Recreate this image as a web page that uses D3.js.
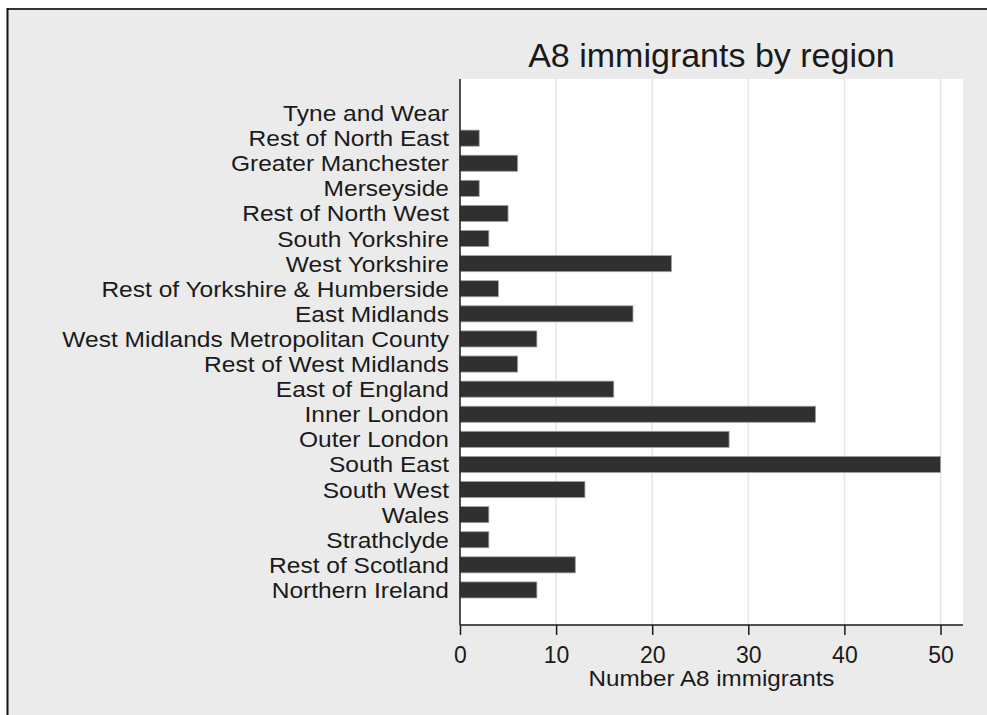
<!DOCTYPE html>
<html>
<head>
<meta charset="utf-8">
<script src="https://cdn.jsdelivr.net/npm/d3@7"></script>
<style>
  html, body { margin: 0; padding: 0; background: #ffffff; }
  svg { display: block; }
  text { font-family: "Liberation Sans", Arial, sans-serif; fill: #1a1a1a; }
</style>
</head>
<body>
<script>
const categories = [
  "Tyne and Wear", "Rest of North East", "Greater Manchester", "Merseyside",
  "Rest of North West", "South Yorkshire", "West Yorkshire",
  "Rest of Yorkshire & Humberside", "East Midlands",
  "West Midlands Metropolitan County", "Rest of West Midlands",
  "East of England", "Inner London", "Outer London", "South East",
  "South West", "Wales", "Strathclyde", "Rest of Scotland", "Northern Ireland"
];
const values = [0, 2, 6, 2, 5, 3, 22, 4, 18, 8, 6, 16, 37, 28, 50, 13, 3, 3, 12, 8];
const xTicks = [0, 10, 20, 30, 40, 50];
const titleText = "A8 immigrants by region";
const xAxisTitle = "Number A8 immigrants";

const W = 987, H = 715;
const plot = { left: 460, right: 963, top: 79, bottom: 625 };

const svg = d3.select("body").append("svg").attr("width", W).attr("height", H);

// outer background + frame
svg.append("rect").attr("x", 0).attr("y", 0).attr("width", W).attr("height", H).attr("fill", "#ffffff");
svg.append("rect").attr("x", 7).attr("y", 8).attr("width", W - 7).attr("height", H - 8).attr("fill", "#ebebeb");
svg.append("line").attr("x1", 7).attr("x2", W).attr("y1", 9).attr("y2", 9).attr("stroke", "#333").attr("stroke-width", 2);
svg.append("line").attr("x1", 7.5).attr("x2", 7.5).attr("y1", 8).attr("y2", H).attr("stroke", "#111").attr("stroke-width", 2);

// plot region
svg.append("rect").attr("x", plot.left).attr("y", plot.top)
  .attr("width", plot.right - plot.left).attr("height", plot.bottom - plot.top).attr("fill", "#ffffff");

const x = d3.scaleLinear().domain([0, 50]).range([plot.left, 940.5]);
const y = d3.scaleBand().domain(categories).range([100.5, 602.5]).paddingInner(0.36).paddingOuter(0.18);

// gridlines
svg.append("g").selectAll("line").data(xTicks.filter(d => d > 0)).join("line")
  .attr("x1", d => x(d)).attr("x2", d => x(d))
  .attr("y1", plot.top).attr("y2", plot.bottom)
  .attr("stroke", "#e6e6e6").attr("stroke-width", 1.5);

// bars
svg.append("g").selectAll("rect").data(categories).join("rect")
  .attr("x", x(0))
  .attr("y", d => y(d))
  .attr("width", (d, i) => x(values[i]) - x(0))
  .attr("height", y.bandwidth())
  .attr("fill", "#303030")
  .attr("stroke", "#a0a0a0")
  .attr("stroke-width", (d, i) => values[i] > 0 ? 0.8 : 0);

// x axis
const xAxis = d3.axisBottom(x).tickValues(xTicks).tickSize(10).tickPadding(6);
const gx = svg.append("g").attr("transform", `translate(0,${plot.bottom})`).call(xAxis);
gx.select(".domain").remove();
gx.selectAll(".tick line").attr("stroke", "#1a1a1a").attr("stroke-width", 1.5);
gx.selectAll(".tick text").attr("font-size", 23).attr("fill", "#1a1a1a")
  .attr("font-family", "'Liberation Sans', Arial, sans-serif").attr("dy", "0.95em");
svg.append("line").attr("x1", plot.left).attr("x2", plot.right)
  .attr("y1", plot.bottom).attr("y2", plot.bottom).attr("stroke", "#1a1a1a").attr("stroke-width", 1.5);

// y axis line
svg.append("line").attr("x1", plot.left).attr("x2", plot.left)
  .attr("y1", plot.top).attr("y2", plot.bottom).attr("stroke", "#1a1a1a").attr("stroke-width", 1.5);

// category labels (slightly wide rendering as in reference)
svg.append("g").selectAll("text").data(categories).join("text")
  .attr("transform", d => `translate(449,${y(d) + y.bandwidth() / 2 + 8}) scale(1.1,1)`)
  .attr("text-anchor", "end")
  .attr("font-size", 22.3)
  .text(d => d);

// title
svg.append("text").attr("x", (plot.left + plot.right) / 2).attr("y", 66.5)
  .attr("text-anchor", "middle").attr("font-size", 34).text(titleText);

// x axis title
svg.append("text")
  .attr("transform", `translate(${(plot.left + plot.right) / 2},686) scale(1.1,1)`)
  .attr("text-anchor", "middle").attr("font-size", 22).text(xAxisTitle);
</script>
</body>
</html>
